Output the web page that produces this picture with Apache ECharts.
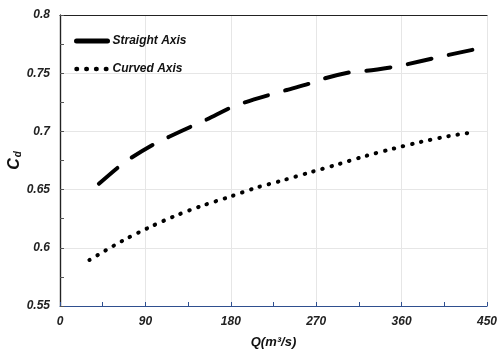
<!DOCTYPE html>
<html>
<head>
<meta charset="utf-8">
<script src="https://cdn.jsdelivr.net/npm/echarts@6/dist/echarts.min.js"></script>
<style>
  html, body { margin: 0; padding: 0; background: #fff; }
  #chart { width: 497px; height: 351px; }
</style>
</head>
<body>
<div id="chart"></div>
<script>
// Discharge coefficient vs. flow rate for two spillway axis shapes
const straightQ  = [41, 63, 76, 102, 115, 141, 155, 182, 195, 224, 239, 266, 279, 309, 323, 353, 366, 396, 409, 439];
const straightCd = [0.655, 0.6703, 0.6778, 0.6903, 0.6954, 0.7052, 0.7104, 0.7212, 0.725, 0.7321, 0.7356, 0.7418, 0.7456, 0.7513, 0.7521, 0.7556, 0.7577, 0.7633, 0.7656, 0.7708];

const curvedQ  = [31, 66, 93.5, 121, 149, 178, 206, 235, 264, 293, 322, 351, 380, 410, 430];
const curvedCd = [0.5895, 0.6061, 0.6173, 0.6273, 0.6359, 0.6436, 0.6514, 0.658, 0.6649, 0.6717, 0.6789, 0.6851, 0.6909, 0.696, 0.6986];

const xTicks = [0, 90, 180, 270, 360, 450];
const yTicks = [0.55, 0.6, 0.65, 0.7, 0.75, 0.8];
const seriesNames = ['Straight Axis', 'Curved Axis'];

const zip = (xs, ys) => xs.map((x, i) => [x, ys[i]]);

const labelFont = {
  fontFamily: 'Liberation Sans, Arial, sans-serif',
  fontWeight: 'bold',
  fontStyle: 'italic',
  fontSize: 12,
  color: '#222'
};

const straightStyle = { color: '#000', width: 4, type: [24, 18], cap: 'round' };
const curvedStyle   = { color: '#000', width: 4, type: [0.5, 8.8], cap: 'round' };

const chart = echarts.init(document.getElementById('chart'), null, { renderer: 'canvas' });

chart.setOption({
  animation: false,
  backgroundColor: '#fff',
  grid: { left: 60, right: 10, top: 15, bottom: 45, show: false, containLabel: false, outerBoundsMode: 'none' },
  legend: {
    orient: 'vertical',
    left: 69,
    top: 30,
    itemWidth: 31,
    itemHeight: 14,
    itemGap: 16,
    textStyle: Object.assign({}, labelFont, { color: '#111' }),
    data: [
      { name: seriesNames[0], itemStyle: { opacity: 0 }, lineStyle: { type: 'solid', width: 5, cap: 'round', color: '#000' } },
      { name: seriesNames[1], itemStyle: { opacity: 0 }, lineStyle: { type: [0.5, 9.3], width: 4.5, cap: 'round', color: '#000' } }
    ]
  },
  xAxis: [{
    type: 'value',
    min: xTicks[0],
    max: xTicks[xTicks.length - 1],
    interval: 90,
    name: 'Q(m³/s)',
    nameLocation: 'middle',
    nameGap: 30,
    nameMoveOverlap: false,
    nameTextStyle: Object.assign({}, labelFont, { fontSize: 13, color: '#111' }),
    axisLine: { show: true, lineStyle: { color: '#2f4f8f', width: 1.2 } },
    axisTick: { show: true, inside: true, length: 4, lineStyle: { color: '#2f4f8f' } },
    minorTick: { show: true, splitNumber: 2, length: 4, lineStyle: { color: '#2f4f8f' } },
    axisLabel: Object.assign({}, labelFont, { margin: 10 }),
    splitLine: { show: true, lineStyle: { color: '#e6e6e6', width: 1 } }
  }, {
    type: 'value',
    position: 'top',
    min: xTicks[0],
    max: xTicks[xTicks.length - 1],
    interval: 90,
    axisLine: { show: true, lineStyle: { color: '#222', width: 1.2 } },
    axisTick: { show: false },
    axisLabel: { show: false },
    splitLine: { show: false }
  }],
  yAxis: [{
    type: 'value',
    min: yTicks[0],
    max: yTicks[yTicks.length - 1],
    interval: 0.05,
    name: '{c|C}{d|d}',
    nameLocation: 'middle',
    nameRotate: 90,
    nameGap: 37,
    nameMoveOverlap: false,
    nameTextStyle: {
      rich: {
        c: Object.assign({}, labelFont, { fontSize: 16, color: '#111', verticalAlign: 'bottom' }),
        d: Object.assign({}, labelFont, { fontSize: 10, color: '#111', verticalAlign: 'bottom', padding: [0, 0, 0, 1] })
      }
    },
    axisLine: { show: true, lineStyle: { color: '#222', width: 1.2 } },
    axisTick: { show: true, inside: true, length: 4, lineStyle: { color: '#555' } },
    minorTick: { show: true, splitNumber: 2, length: 4, lineStyle: { color: '#555' } },
    axisLabel: Object.assign({}, labelFont, { margin: 10, formatter: v => String(+v.toFixed(2)) }),
    splitLine: { show: true, lineStyle: { color: '#e6e6e6', width: 1 } }
  }, {
    type: 'value',
    position: 'right',
    min: yTicks[0],
    max: yTicks[yTicks.length - 1],
    interval: 0.05,
    axisLine: { show: true, lineStyle: { color: '#222', width: 1.2 } },
    axisTick: { show: false },
    axisLabel: { show: false },
    splitLine: { show: false }
  }],
  series: [{
    name: seriesNames[0],
    type: 'line',
    smooth: 0.3,
    symbol: 'none',
    data: zip(straightQ, straightCd),
    lineStyle: straightStyle,
    itemStyle: { color: '#000' }
  }, {
    name: seriesNames[1],
    type: 'line',
    smooth: 0.3,
    symbol: 'none',
    data: zip(curvedQ, curvedCd),
    lineStyle: curvedStyle,
    itemStyle: { color: '#000' }
  }]
});
</script>
</body>
</html>
